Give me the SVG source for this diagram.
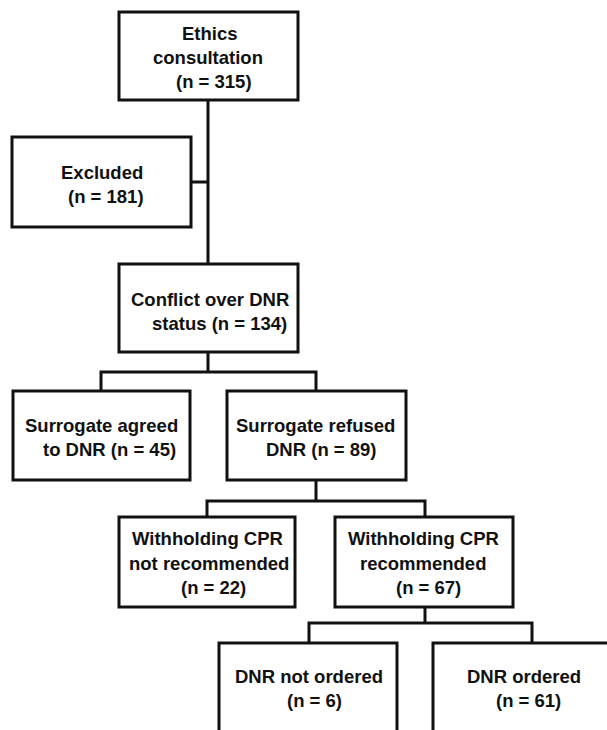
<svg xmlns="http://www.w3.org/2000/svg" width="607" height="730" viewBox="0 0 607 730">
<style>
.box{fill:#fff;stroke:#111;stroke-width:3}
.ln{fill:none;stroke:#111;stroke-width:3}
text{font-family:"Liberation Sans",Arial,sans-serif;font-weight:bold;font-size:18.5px;fill:#111}
</style>
<rect width="607" height="730" fill="#fff"/>
<g id="connectors">
<path class="ln" d="M208,100 V264 M191,182 H208"/>
<path class="ln" d="M208,352 V372 M101,391 V372 H316 V391"/>
<path class="ln" d="M316,480 V501 M207,517 V501 H425 V517"/>
<path class="ln" d="M425,607 V623 M309,643 V623 H532 V643"/>
</g>
<g id="ethics">
<rect class="box" x="119" y="12" width="179" height="88"/>
<text x="182" y="40">Ethics</text>
<text x="153" y="64">consultation</text>
<text x="176" y="88">(n = 315)</text>
</g>
<g id="excluded">
<rect class="box" x="12" y="137" width="179" height="90"/>
<text x="61" y="179">Excluded</text>
<text x="68" y="203">(n = 181)</text>
</g>
<g id="conflict">
<rect class="box" x="119" y="264" width="179" height="88"/>
<text x="131" y="306">Conflict over DNR</text>
<text x="152" y="330">status (n = 134)</text>
</g>
<g id="agreed">
<rect class="box" x="13" y="391" width="177" height="89"/>
<text x="25" y="432">Surrogate agreed</text>
<text x="43" y="456">to DNR (n = 45)</text>
</g>
<g id="refused">
<rect class="box" x="227" y="391" width="179" height="89"/>
<text x="236" y="432">Surrogate refused</text>
<text x="266" y="456">DNR (n = 89)</text>
</g>
<g id="not-recommended">
<rect class="box" x="119" y="517" width="176" height="90"/>
<text x="132" y="545">Withholding CPR</text>
<text x="129" y="570">not recommended</text>
<text x="181" y="594">(n = 22)</text>
</g>
<g id="recommended">
<rect class="box" x="335" y="517" width="178" height="90"/>
<text x="348" y="545">Withholding CPR</text>
<text x="360" y="570">recommended</text>
<text x="396" y="594">(n = 67)</text>
</g>
<g id="dnr-not-ordered">
<rect class="box" x="219" y="643" width="178" height="100"/>
<text x="235" y="683">DNR not ordered</text>
<text x="287" y="707">(n = 6)</text>
</g>
<g id="dnr-ordered">
<rect class="box" x="433" y="643" width="180" height="100"/>
<text x="467" y="683">DNR ordered</text>
<text x="496" y="707">(n = 61)</text>
</g>
</svg>
